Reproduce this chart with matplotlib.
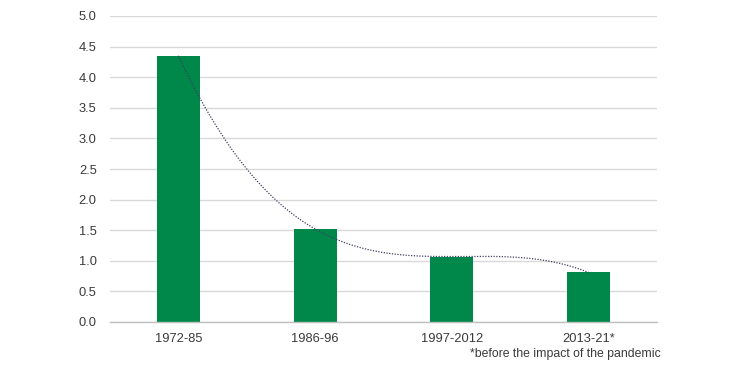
import matplotlib
matplotlib.use("Agg")
import matplotlib.pyplot as plt
import numpy as np

categories = ["1972-85", "1986-96", "1997-2012", "2013-21*"]
values = [4.35, 1.52, 1.07, 0.81]
yticks = [0.0, 0.5, 1.0, 1.5, 2.0, 2.5, 3.0, 3.5, 4.0, 4.5, 5.0]
footnote = "*before the impact of the pandemic"

plt.rcParams['font.family'] = ['Liberation Sans', 'DejaVu Sans']

fig = plt.figure(figsize=(7.44, 3.72), dpi=100)
ax = fig.add_axes([110/744, 1-322/372, 547/744, 306/372])

x = np.arange(len(categories))
ax.bar(x, values, width=0.315, color="#00884A", zorder=2)

# polynomial (order 3) trendline
coef = np.polyfit(x, values, 3)
xs = np.linspace(x[0], x[-1], 300)
ax.plot(xs, np.polyval(coef, xs), linestyle=(0, (1, 1.2)), color="#404060", linewidth=0.9, zorder=3)

ax.set_xlim(-0.5, len(categories) - 0.5)
ax.set_ylim(0, 5)
ax.set_yticks(yticks)
ax.set_yticklabels([f"{v:.1f}" for v in yticks])
ax.set_xticks(x)
ax.set_xticklabels(categories)
ax.grid(axis='y', color="#d9d9d9", linewidth=1, zorder=0)
ax.set_axisbelow(True)
for s in ["top", "right", "left"]:
    ax.spines[s].set_visible(False)
ax.spines["bottom"].set_color("#bfbfbf")
ax.spines["bottom"].set_linewidth(1)
ax.tick_params(axis='both', length=0, labelsize=9.3, colors="#3a3a3a")
ax.tick_params(axis='y', pad=9.5)
ax.tick_params(axis='x', pad=8)

fig.text(661/744, 1-354/372, footnote, ha='right', va='center', fontsize=8.8, color="#3a3a3a")

fig.savefig("out.png", dpi=100)
